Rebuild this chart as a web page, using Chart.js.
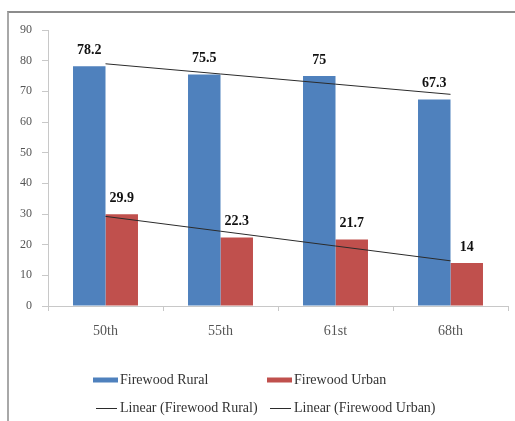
<!DOCTYPE html>
<html>
<head>
<meta charset="utf-8">
<script src="https://cdn.jsdelivr.net/npm/chart.js@4"></script>
<style>
  html, body { margin:0; padding:0; background:#fff; }
  #wrap { position:relative; width:515px; height:421px; overflow:hidden; }
  #frame { position:absolute; left:7px; top:11px; width:530px; height:430px;
           border-top:2px solid #8c8c8c; border-left:2px solid #a8a8a8; }
  #c { position:absolute; left:0; top:0; }
</style>
</head>
<body>
<div id="wrap">
  <div id="frame"></div>
  <canvas id="c" width="515" height="421"></canvas>
</div>
<script>
// survey rounds and firewood shares (%)
const rounds = ['50th', '55th', '61st', '68th'];
const firewoodRural = [78.2, 75.5, 75, 67.3];
const firewoodUrban = [29.9, 22.3, 21.7, 14];
const yTicks = [0, 10, 20, 30, 40, 50, 60, 70, 80, 90];

const blue = '#4f81bd';
const red = '#c0504d';
const trendColor = '#2b2b2b';
const serif = '"Liberation Serif", "Times New Roman", serif';

// least squares line over the category index, like a spreadsheet linear trendline
function linearTrend(vals) {
  const n = vals.length;
  const mx = (n - 1) / 2;
  const my = vals.reduce((a, b) => a + b, 0) / n;
  let num = 0, den = 0;
  vals.forEach((v, i) => { num += (i - mx) * (v - my); den += (i - mx) * (i - mx); });
  const slope = num / den;
  return vals.map((_, i) => my + slope * (i - mx));
}

// value labels above each bar
const barValues = {
  id: 'barValues',
  afterDatasetsDraw(chart) {
    const ctx = chart.ctx;
    ctx.save();
    ctx.font = 'bold 14px ' + serif;
    ctx.fillStyle = '#111';
    ctx.textAlign = 'center';
    ctx.textBaseline = 'middle';
    chart.data.datasets.forEach((ds, di) => {
      if (ds.type !== 'bar') return;
      chart.getDatasetMeta(di).data.forEach((bar, i) => {
        ctx.fillText(String(ds.data[i]), bar.x, bar.y - 16);
      });
    });
    ctx.restore();
  }
};

// two-by-two legend under the axis
const gridLegend = {
  id: 'gridLegend',
  afterDraw(chart) {
    const ctx = chart.ctx;
    const cols = [93, 267];
    const rows = [380, 408];
    ctx.save();
    ctx.font = '14px ' + serif;
    ctx.fillStyle = '#333';
    ctx.textBaseline = 'middle';
    chart.data.datasets.forEach((ds, di) => {
      const x = cols[di % 2];
      const y = rows[Math.floor(di / 2)];
      if (ds.type === 'bar') {
        ctx.fillStyle = ds.backgroundColor;
        ctx.fillRect(x, y - 2.5, 25, 5);
      } else {
        ctx.strokeStyle = ds.borderColor;
        ctx.lineWidth = 1;
        ctx.beginPath();
        ctx.moveTo(x + 3, y + 0.5);
        ctx.lineTo(x + 24, y + 0.5);
        ctx.stroke();
      }
      ctx.fillStyle = '#333';
      ctx.fillText(ds.label, x + 27, y);
    });
    ctx.restore();
  }
};

new Chart(document.getElementById('c'), {
  data: {
    labels: rounds,
    datasets: [
      { type: 'bar', label: 'Firewood Rural', data: firewoodRural, backgroundColor: blue, order: 1 },
      { type: 'bar', label: 'Firewood Urban', data: firewoodUrban, backgroundColor: red, order: 1 },
      { type: 'line', label: 'Linear (Firewood Rural)', data: linearTrend(firewoodRural),
        borderColor: trendColor, borderWidth: 1, pointRadius: 0, fill: false, order: 0 },
      { type: 'line', label: 'Linear (Firewood Urban)', data: linearTrend(firewoodUrban),
        borderColor: trendColor, borderWidth: 1, pointRadius: 0, fill: false, order: 0 }
    ]
  },
  options: {
    responsive: false,
    animation: false,
    events: [],
    datasets: { bar: { categoryPercentage: 0.565, barPercentage: 1 } },
    layout: { padding: { left: 0, top: 30, right: 7, bottom: 0 } },
    plugins: { legend: { display: false }, tooltip: { enabled: false } },
    scales: {
      x: {
        offset: true,
        grid: { offset: true, drawOnChartArea: false, color: '#c8c8c8', tickLength: 5 },
        border: { color: '#c8c8c8' },
        ticks: { color: '#555', font: { family: serif, size: 14 }, padding: 12 },
        afterFit(scale) { scale.height = 115; }
      },
      y: {
        min: 0, max: 90,
        afterBuildTicks(scale) { scale.ticks = yTicks.map(v => ({ value: v })); },
        grid: { drawOnChartArea: false, color: '#c8c8c8', tickLength: 6 },
        border: { color: '#c8c8c8' },
        ticks: { color: '#555', font: { family: serif, size: 12 }, padding: 10 },
        afterFit(scale) { scale.width = 48; }
      }
    }
  },
  plugins: [barValues, gridLegend]
});
</script>
</body>
</html>
